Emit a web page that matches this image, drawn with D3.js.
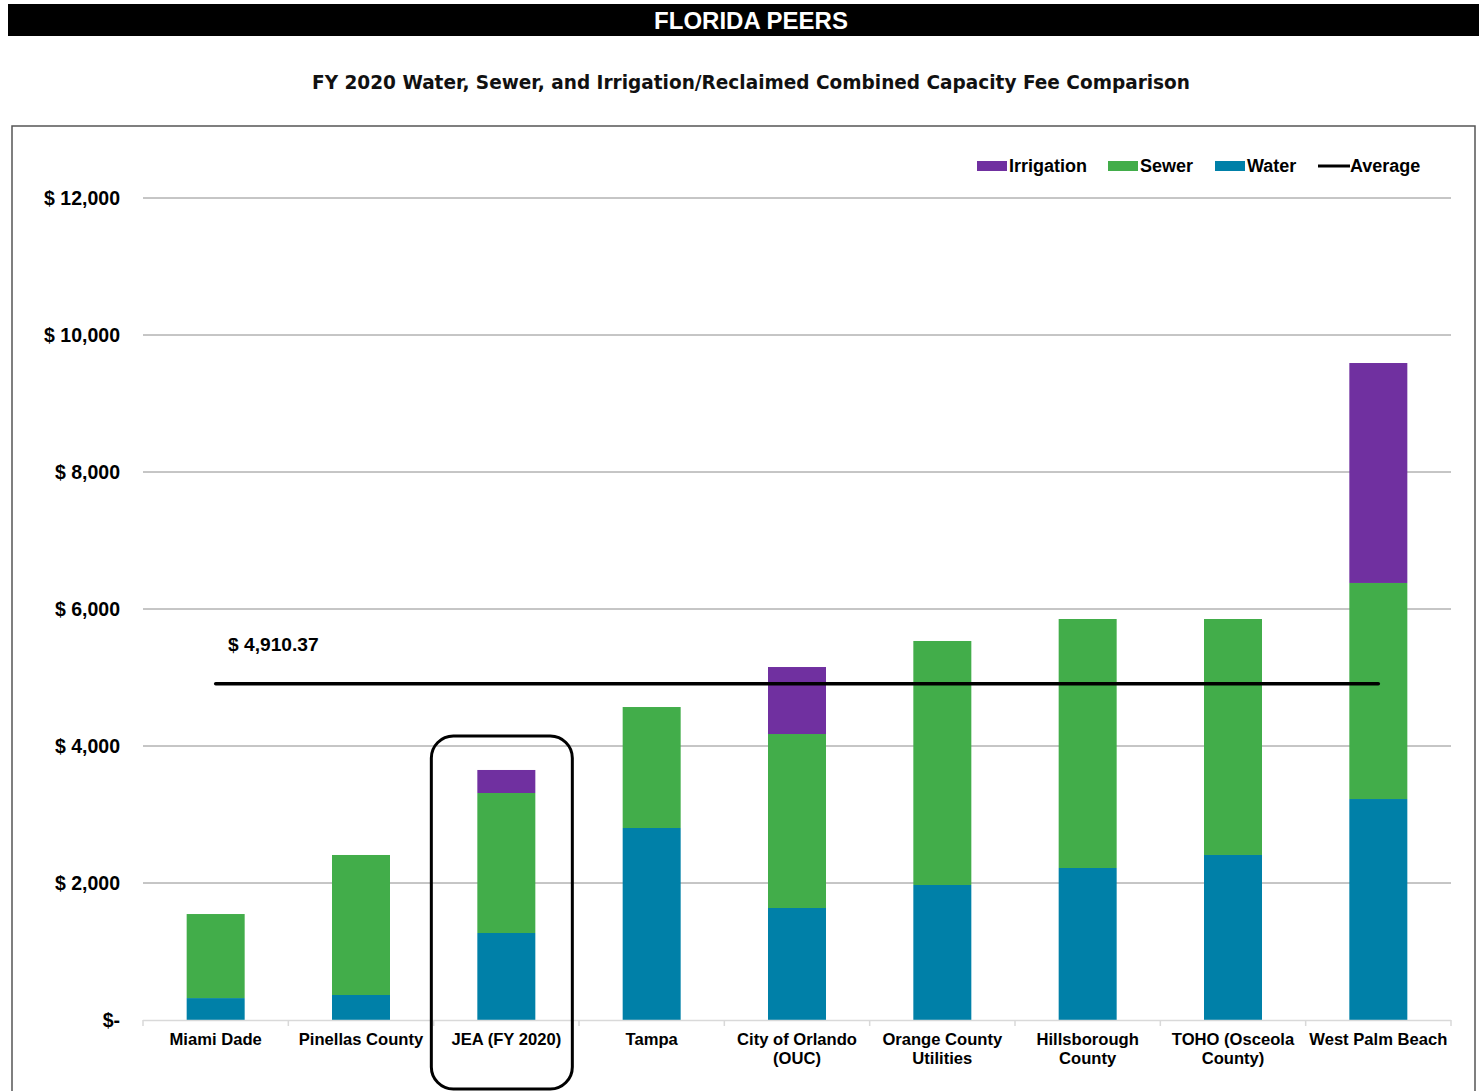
<!DOCTYPE html>
<html>
<head>
<meta charset="utf-8">
<script src="https://cdn.jsdelivr.net/npm/d3@7"></script>
<style>
  html, body { margin: 0; padding: 0; background: #fff; }
  svg { display: block; }
</style>
</head>
<body>
<svg id="chart" width="1479" height="1091"></svg>
<script>
const categories = [
  ["Miami Dade"],
  ["Pinellas County"],
  ["JEA (FY 2020)"],
  ["Tampa"],
  ["City of Orlando", "(OUC)"],
  ["Orange County", "Utilities"],
  ["Hillsborough", "County"],
  ["TOHO (Osceola", "County)"],
  ["West Palm Beach"]
];
const water      = [320, 365, 1270, 2803, 1635, 1971, 2219, 2409, 3226];
const sewer      = [1227, 2044, 2044, 1766, 2540, 3562, 3635, 3445, 3154];
const irrigation = [0, 0, 336, 0, 978, 0, 0, 0, 3211];
const averageValue = 4910.37;
const yTicks = [0, 2000, 4000, 6000, 8000, 10000, 12000];
const yTickLabels = ["$-", "$ 2,000", "$ 4,000", "$ 6,000", "$ 8,000", "$ 10,000", "$ 12,000"];
const seriesNames = ["Water", "Sewer", "Irrigation"];
const colors = { Water: "#0080A8", Sewer: "#42AD4A", Irrigation: "#7030A0" };
const highlightIndex = 2;

const svg = d3.select("#chart");
const FONT = "'Liberation Sans', Arial, sans-serif";

// Title bar
svg.append("rect").attr("x", 8).attr("y", 4).attr("width", 1471).attr("height", 32).attr("fill", "#000");
svg.append("text").attr("x", 751).attr("y", 29).attr("text-anchor", "middle")
  .attr("font-family", FONT).attr("font-weight", "bold").attr("font-size", 24).attr("fill", "#fff")
  .text("FLORIDA PEERS");

// Subtitle
svg.append("text").attr("x", 751).attr("y", 89).attr("text-anchor", "middle")
  .attr("font-family", "'DejaVu Sans', sans-serif").attr("font-weight", "bold").attr("font-size", 19).attr("fill", "#111")
  .attr("textLength", 878).attr("lengthAdjust", "spacingAndGlyphs")
  .text("FY 2020 Water, Sewer, and Irrigation/Reclaimed Combined Capacity Fee Comparison");

// Chart frame
svg.append("rect").attr("x", 12).attr("y", 126).attr("width", 1463).attr("height", 1000)
  .attr("fill", "none").attr("stroke", "#555").attr("stroke-width", 1.5);

const xOuter = d3.scaleBand().domain(d3.range(categories.length)).range([143, 1451]);
const y = d3.scaleLinear().domain([0, 12000]).range([1020, 198]);

// Gridlines
svg.append("g").selectAll("line").data(yTicks.filter(d => d > 0)).join("line")
  .attr("x1", 143).attr("x2", 1451).attr("y1", d => y(d)).attr("y2", d => y(d))
  .attr("stroke", "#8c8c8c").attr("stroke-width", 1);

// Y labels
svg.append("g").selectAll("text").data(yTicks).join("text")
  .attr("x", 120).attr("y", (d) => y(d) + 7).attr("text-anchor", "end")
  .attr("font-family", FONT).attr("font-weight", "bold").attr("font-size", 19.5).attr("fill", "#000")
  .text((d, i) => yTickLabels[i]);

// Stack
const rows = categories.map((c, i) => ({ i, Water: water[i], Sewer: sewer[i], Irrigation: irrigation[i] }));
const stack = d3.stack().keys(seriesNames)(rows);
svg.append("g").selectAll("g").data(stack).join("g")
  .attr("fill", d => colors[d.key])
  .selectAll("rect").data(d => d.filter(s => s[1] - s[0] > 0)).join("rect")
  .attr("x", d => xOuter(d.data.i) + xOuter.bandwidth() / 2 - 29)
  .attr("width", 58)
  .attr("y", d => y(d[1]))
  .attr("height", d => y(d[0]) - y(d[1]));

// X axis line + ticks
const axisG = svg.append("g");
axisG.append("line").attr("x1", 143).attr("x2", 1451).attr("y1", 1020.5).attr("y2", 1020.5)
  .attr("stroke", "#d9d9d9").attr("stroke-width", 1.5);
axisG.selectAll("line.tk").data(d3.range(categories.length + 1)).join("line").attr("class", "tk")
  .attr("x1", i => i < categories.length ? xOuter(i) : 1451)
  .attr("x2", i => i < categories.length ? xOuter(i) : 1451)
  .attr("y1", 1020).attr("y2", 1026).attr("stroke", "#d9d9d9").attr("stroke-width", 1.5);

// X labels
const xl = svg.append("g").selectAll("text").data(categories).join("text")
  .attr("x", (d, i) => xOuter(i) + xOuter.bandwidth() / 2)
  .attr("y", 1045).attr("text-anchor", "middle")
  .attr("font-family", FONT).attr("font-weight", "bold").attr("font-size", 16.6).attr("fill", "#000");
xl.selectAll("tspan").data(d => d).join("tspan")
  .attr("x", function() { return this.parentNode.getAttribute("x"); })
  .attr("dy", (d, j) => j === 0 ? 0 : 19)
  .text(d => d);

// Average line
const cx0 = xOuter(0) + xOuter.bandwidth() / 2;
const cx1 = xOuter(categories.length - 1) + xOuter.bandwidth() / 2;
svg.append("line").attr("x1", cx0).attr("x2", cx1).attr("y1", y(averageValue)).attr("y2", y(averageValue))
  .attr("stroke", "#000").attr("stroke-width", 3.5).attr("stroke-linecap", "round");
svg.append("text").attr("x", 228).attr("y", y(averageValue) - 33)
  .attr("font-family", FONT).attr("font-weight", "bold").attr("font-size", 19.2).attr("fill", "#000")
  .text("$ " + d3.format(",.2f")(averageValue));

// Highlight box around JEA
const hx = xOuter(highlightIndex) + xOuter.bandwidth() / 2;
svg.append("rect").attr("x", hx - 75).attr("y", 736).attr("width", 141).attr("height", 353)
  .attr("rx", 22).attr("ry", 22).attr("fill", "none").attr("stroke", "#000").attr("stroke-width", 3);

// Legend
const legendItems = [
  { name: "Irrigation", type: "rect", x: 977 },
  { name: "Sewer", type: "rect", x: 1108 },
  { name: "Water", type: "rect", x: 1215 },
  { name: "Average", type: "line", x: 1318 }
];
const lg = svg.append("g");
legendItems.forEach(it => {
  if (it.type === "rect") {
    lg.append("rect").attr("x", it.x).attr("y", 161).attr("width", 30).attr("height", 10).attr("fill", colors[it.name]);
  } else {
    lg.append("line").attr("x1", it.x).attr("x2", it.x + 32).attr("y1", 166).attr("y2", 166)
      .attr("stroke", "#000").attr("stroke-width", 3);
  }
  lg.append("text").attr("x", it.x + 32).attr("y", 172)
    .attr("font-family", FONT).attr("font-weight", "bold").attr("font-size", 18).attr("fill", "#000")
    .text(it.name);
});
</script>
</body>
</html>
